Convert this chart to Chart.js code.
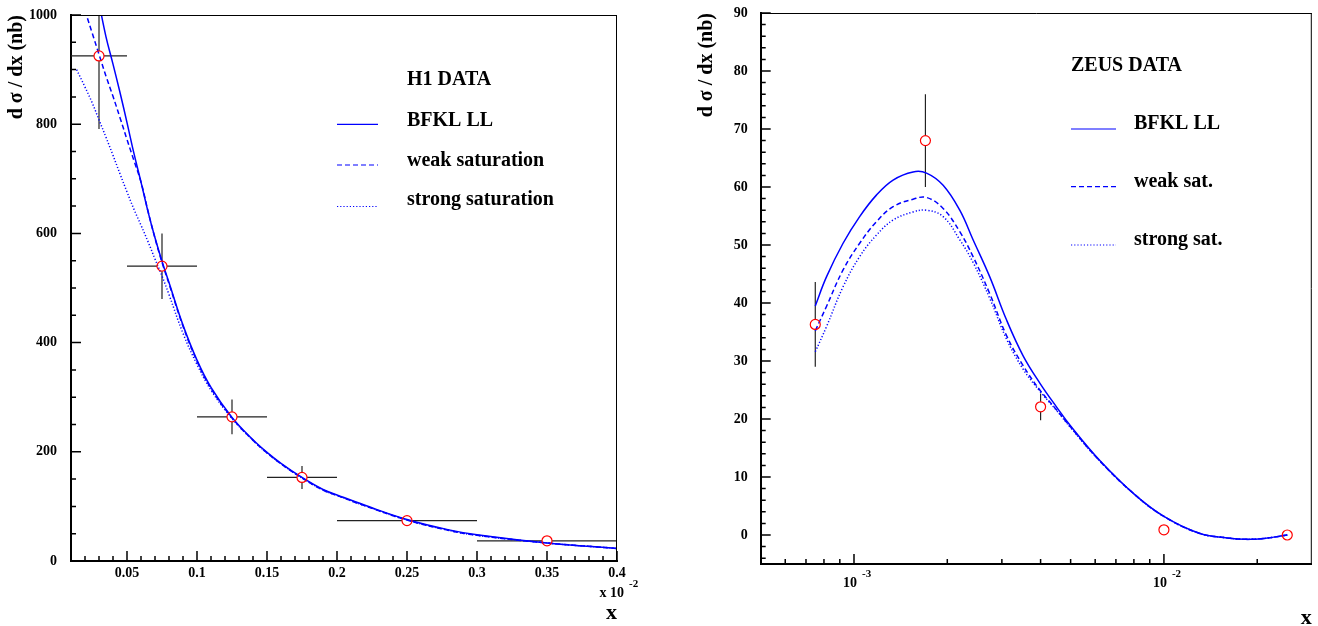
<!DOCTYPE html>
<html lang="en">
<head>
<meta charset="UTF-8">
<title>d sigma / dx : H1 and ZEUS</title>
<script src="https://cdn.jsdelivr.net/npm/chart.js@4"></script>
<style>
  html, body { margin: 0; padding: 0; background: #fff; }
  #wrap { position: relative; width: 1318px; height: 626px; }
  .box { position: absolute; top: 0; height: 626px; }
  #left { left: 0; width: 655px; }
  #right { left: 655px; width: 663px; }
</style>
</head>
<body>
<div id="wrap">
  <div class="box" id="left"><canvas id="h1"></canvas></div>
  <div class="box" id="right"><canvas id="zeus"></canvas></div>
</div>
<script>
// ---------- H1 panel (x in units of 10^-2) ----------
const h1X = [0.03, 0.075, 0.125, 0.175, 0.25, 0.35];
const h1Y = [925, 540, 264, 153, 74, 37];
const h1YErr = [134, 60, 32, 21, 5, 3];
const h1XLo = [0.01, 0.05, 0.10, 0.15, 0.20, 0.30];
const h1XHi = [0.05, 0.10, 0.15, 0.20, 0.30, 0.40];

const h1BfklX = [0.030, 0.035, 0.040, 0.045, 0.050, 0.055, 0.060, 0.065, 0.070, 0.075, 0.080, 0.090, 0.100, 0.110, 0.125, 0.140, 0.150, 0.160, 0.175, 0.190, 0.200, 0.220, 0.250, 0.280, 0.300, 0.350, 0.400];
const h1BfklY = [1022, 960, 910, 858, 803, 746, 694, 640, 592, 549, 510, 432, 368, 318, 263, 222, 199, 179, 153, 131, 121, 102, 76, 57, 48, 33, 23];

const h1WeakX = [0.020, 0.025, 0.030, 0.035, 0.040, 0.045, 0.050, 0.055, 0.060, 0.065, 0.070, 0.075, 0.080, 0.090, 0.100, 0.110, 0.125, 0.140, 0.150, 0.160, 0.175, 0.190, 0.200, 0.220, 0.250, 0.280, 0.300, 0.350, 0.400];
const h1WeakY = [1008, 968, 928, 888, 851, 812, 772, 733, 694, 641, 591, 547, 508, 430, 366, 316, 262, 221, 198, 178, 152, 130, 120, 101, 75, 56, 47, 33, 23];

const h1StrongX = [0.014, 0.020, 0.025, 0.030, 0.035, 0.040, 0.045, 0.050, 0.055, 0.060, 0.065, 0.070, 0.075, 0.080, 0.090, 0.100, 0.110, 0.125, 0.140, 0.150, 0.160, 0.175, 0.190, 0.200, 0.220, 0.250, 0.280, 0.300, 0.350, 0.400];
const h1StrongY = [900, 868, 840, 808, 776, 743, 709, 676, 644, 615, 585, 553, 522, 488, 417, 360, 313, 261, 221, 198, 178, 152, 130, 120, 101, 75, 56, 47, 33, 23];

const h1XTicks = [0.05, 0.1, 0.15, 0.2, 0.25, 0.3, 0.35, 0.4];
const h1XTickLabels = ['0.05', '0.1', '0.15', '0.2', '0.25', '0.3', '0.35', '0.4'];
const h1YTicks = [0, 200, 400, 600, 800, 1000];
const h1YTickLabels = ['0', '200', '400', '600', '800', '1000'];

// ---------- ZEUS panel ----------
const zX = [7.5e-4, 1.7e-3, 4.0e-3, 1.0e-2, 2.5e-2];
const zY = [36.3, 68.0, 22.1, 0.9, 0.0];
const zYErr = [7.3, 8.0, 2.3, 0, 0];

const zCurveX = [7.5e-4, 8.15e-4, 9.22e-4, 1.043e-3, 1.181e-3, 1.337e-3, 1.551e-3, 1.714e-3, 1.939e-3, 2.194e-3, 2.422e-3, 2.742e-3, 3.105e-3, 3.513e-3, 3.977e-3, 4.5e-3, 5.0e-3, 6.2e-3, 8.0e-3, 1.0e-2, 1.3e-2, 1.6e-2, 1.83e-2, 2.1e-2, 2.5e-2];
const zBfklY = [39.5, 44.5, 50.3, 54.9, 58.6, 61.2, 62.6, 62.4, 60.3, 56.0, 50.9, 44.5, 37.1, 30.9, 26.2, 22.1, 18.8, 12.9, 7.1, 3.2, 0.3, -0.5, -0.75, -0.6, 0.0];
const zWeakY = [35.2, 39.4, 45.7, 50.3, 54.0, 56.6, 57.9, 58.2, 56.3, 52.3, 48.0, 41.6, 34.4, 29.2, 25.0, 21.6, 18.6, 12.8, 7.1, 3.2, 0.3, -0.5, -0.75, -0.6, 0.0];
const zStrongY = [31.6, 35.9, 42.8, 48.0, 51.7, 54.3, 55.7, 56.0, 54.9, 50.9, 47.0, 40.8, 33.8, 28.6, 24.8, 21.5, 18.5, 12.8, 7.1, 3.2, 0.3, -0.5, -0.75, -0.6, 0.0];

const zXTicks = [1e-3, 1e-2];
const zXTickExp = ['-3', '-2'];
const zYTicks = [0, 10, 20, 30, 40, 50, 60, 70, 80, 90];
const zYTickLabels = ['0', '10', '20', '30', '40', '50', '60', '70', '80', '90'];

const FONT = '"Liberation Serif", "Times New Roman", serif';
const BLUE = '#0000ff';
const SOLID = [], DASHED = [5, 3], DOTTED = [1.2, 2];

function xy(xs, ys) {
  return xs.map((x, i) => ({ x: x, y: ys[i] }));
}

function curve(label, xs, ys, dash) {
  return {
    label: label,
    data: xy(xs, ys),
    showLine: true,
    borderColor: BLUE,
    borderWidth: 1.5,
    borderDash: dash,
    pointRadius: 0,
    tension: 0.4,
    fill: false
  };
}

function points(xs, ys) {
  return {
    label: 'data',
    data: xy(xs, ys),
    showLine: false,
    pointStyle: 'circle',
    pointRadius: 5,
    pointBorderWidth: 1.2,
    pointBorderColor: '#ff0000',
    pointBackgroundColor: 'rgba(0,0,0,0)'
  };
}

function range(from, to, step) {
  const out = [];
  for (let v = from; v <= to + step / 1000; v += step) out.push(+v.toFixed(6));
  return out;
}

function line(ctx, x1, y1, x2, y2) {
  ctx.moveTo(x1, y1);
  ctx.lineTo(x2, y2);
}

// y axis: keep the wide label gap but do not let it push the plot area down
function fitY(width) {
  return s => {
    s.width = width;
    s.paddingTop = 8;
    s.paddingBottom = 8;
  };
}

// draws frame, inward ticks, error bars, legend and extra labels
const panelPlugin = {
  id: 'panel',
  beforeDatasetsDraw(chart, args, o) {
    const { ctx, chartArea: a } = chart;
    const sx = chart.scales.x, sy = chart.scales.y;
    const r = 5;

    ctx.save();
    ctx.beginPath();
    ctx.rect(a.left, a.top, a.right - a.left, a.bottom - a.top);
    ctx.clip();
    ctx.strokeStyle = '#222';
    ctx.lineWidth = 1.2;
    ctx.beginPath();
    o.bars.x.forEach((xv, i) => {
      const px = sx.getPixelForValue(xv);
      const py = sy.getPixelForValue(o.bars.y[i]);
      if (o.bars.lo) {
        const l = sx.getPixelForValue(o.bars.lo[i]);
        const h = sx.getPixelForValue(o.bars.hi[i]);
        line(ctx, l, py, px - r, py);
        line(ctx, px + r, py, h, py);
      }
      const e = o.bars.err[i];
      if (e) {
        const t = sy.getPixelForValue(o.bars.y[i] + e);
        const b = sy.getPixelForValue(o.bars.y[i] - e);
        if (t < py - r) line(ctx, px, t, px, py - r);
        if (b > py + r) line(ctx, px, py + r, px, b);
      }
    });
    ctx.stroke();
    ctx.restore();
  },
  afterDraw(chart, args, o) {
    const { ctx, chartArea: a } = chart;
    const sx = chart.scales.x, sy = chart.scales.y;

    ctx.save();
    // frame top + right
    ctx.strokeStyle = '#000';
    ctx.lineWidth = 1;
    ctx.beginPath();
    line(ctx, a.left, a.top + 0.5, a.right, a.top + 0.5);
    line(ctx, a.right - 0.5, a.top, a.right - 0.5, a.bottom);
    ctx.stroke();

    // inward ticks
    ctx.lineWidth = 1.5;
    ctx.beginPath();
    o.yMajor.forEach(v => { const p = sy.getPixelForValue(v); line(ctx, a.left, p, a.left + 10, p); });
    o.yMinor.forEach(v => { const p = sy.getPixelForValue(v); line(ctx, a.left, p, a.left + 5, p); });
    o.xMajor.forEach(v => { const p = sx.getPixelForValue(v); line(ctx, p, a.bottom, p, a.bottom - 10); });
    o.xMinor.forEach(v => { const p = sx.getPixelForValue(v); line(ctx, p, a.bottom, p, a.bottom - 5); });
    ctx.stroke();

    // legend
    ctx.fillStyle = '#000';
    ctx.font = 'bold 20px ' + FONT;
    ctx.textBaseline = 'alphabetic';
    ctx.textAlign = 'left';
    const L = o.legend;
    ctx.fillText(L.title, L.titleX, L.titleY);
    L.items.forEach(it => {
      ctx.fillText(it.text, L.textX, it.ty);
      ctx.save();
      ctx.strokeStyle = BLUE;
      ctx.lineWidth = 1.2;
      ctx.setLineDash(it.dash);
      ctx.beginPath();
      line(ctx, L.lineX1, it.ly, L.lineX2, it.ly);
      ctx.stroke();
      ctx.restore();
    });

    // power-of-ten labels
    ctx.fillStyle = '#000';
    (o.powers || []).forEach(pw => {
      const px = pw.value !== undefined ? sx.getPixelForValue(pw.value) : a.right;
      ctx.font = 'bold 14px ' + FONT;
      ctx.textAlign = 'right';
      ctx.fillText(pw.base, px + pw.dx, a.bottom + pw.dy);
      ctx.font = 'bold 11px ' + FONT;
      ctx.textAlign = 'left';
      ctx.fillText(pw.exp, px + pw.dx + 5, a.bottom + pw.dy - 10);
    });
    ctx.restore();
  }
};

function tickFont() {
  return { family: FONT, size: 14, weight: 'bold' };
}

// ---------- H1 chart ----------
new Chart(document.getElementById('h1'), {
  type: 'scatter',
  data: {
    datasets: [
      points(h1X, h1Y),
      curve('BFKL LL', h1BfklX, h1BfklY, SOLID),
      curve('weak saturation', h1WeakX, h1WeakY, DASHED),
      curve('strong saturation', h1StrongX, h1StrongY, DOTTED)
    ]
  },
  options: {
    responsive: true,
    maintainAspectRatio: false,
    animation: false,
    layout: { padding: { left: 5, top: 15, right: 38, bottom: 2 } },
    plugins: {
      legend: { display: false },
      tooltip: { enabled: false },
      panel: {
        bars: { x: h1X, y: h1Y, err: h1YErr, lo: h1XLo, hi: h1XHi },
        yMajor: h1YTicks, yMinor: range(50, 950, 50),
        xMajor: h1XTicks, xMinor: range(0.02, 0.39, 0.01),
        legend: {
          title: 'H1 DATA', titleX: 407, titleY: 85,
          textX: 407, lineX1: 337, lineX2: 378,
          items: [
            { text: 'BFKL LL', ty: 125.7, ly: 124.3, dash: SOLID },
            { text: 'weak saturation', ty: 165.7, ly: 165, dash: DASHED },
            { text: 'strong saturation', ty: 205, ly: 206.5, dash: DOTTED }
          ]
        },
        powers: [{ base: 'x 10', exp: '-2', dx: 7, dy: 36 }]
      }
    },
    scales: {
      x: {
        type: 'linear', min: 0.01, max: 0.4,
        afterBuildTicks: s => { s.ticks = h1XTicks.map(v => ({ value: v })); },
        afterFit: s => { s.height = 63; },
        grid: { display: false, drawTicks: false },
        border: { display: true, color: '#000', width: 2 },
        ticks: { padding: 4, maxRotation: 0, autoSkip: false, color: '#000', font: tickFont(), callback: (v, i) => h1XTickLabels[i] },
        title: { display: true, text: 'x', align: 'end', color: '#000', padding: 0, font: { family: FONT, size: 22, weight: 'bold', lineHeight: 1 } }
      },
      y: {
        type: 'linear', min: 0, max: 1000,
        afterBuildTicks: s => { s.ticks = h1YTicks.map(v => ({ value: v })); },
        afterFit: fitY(66),
        grid: { display: false, drawTicks: false },
        border: { display: true, color: '#000', width: 2 },
        ticks: { padding: 14, autoSkip: false, color: '#000', font: tickFont(), callback: (v, i) => h1YTickLabels[i] },
        title: { display: true, text: 'd σ / dx (nb)', align: 'end', color: '#000', padding: 0, font: { family: FONT, size: 20, weight: 'bold' } }
      }
    }
  },
  plugins: [panelPlugin]
});

// ---------- ZEUS chart ----------
const zMinorX = [6e-4, 7e-4, 8e-4, 9e-4, 2e-3, 3e-3, 4e-3, 5e-3, 6e-3, 7e-3, 8e-3, 9e-3, 2e-2];

new Chart(document.getElementById('zeus'), {
  type: 'scatter',
  data: {
    datasets: [
      points(zX, zY),
      curve('BFKL LL', zCurveX, zBfklY, SOLID),
      curve('weak sat.', zCurveX, zWeakY, DASHED),
      curve('strong sat.', zCurveX, zStrongY, DOTTED)
    ]
  },
  options: {
    responsive: true,
    maintainAspectRatio: false,
    animation: false,
    layout: { padding: { left: 40, top: 13, right: 6, bottom: 0 } },
    plugins: {
      legend: { display: false },
      tooltip: { enabled: false },
      panel: {
        bars: { x: zX, y: zY, err: zYErr },
        yMajor: zYTicks, yMinor: range(-4, 88, 2),
        xMajor: zXTicks, xMinor: zMinorX,
        legend: {
          title: 'ZEUS DATA', titleX: 416, titleY: 71,
          textX: 479, lineX1: 416, lineX2: 461,
          items: [
            { text: 'BFKL LL', ty: 129.3, ly: 129, dash: SOLID },
            { text: 'weak sat.', ty: 186.7, ly: 186.7, dash: DASHED },
            { text: 'strong sat.', ty: 245, ly: 245, dash: DOTTED }
          ]
        },
        powers: zXTicks.map((v, i) => ({ value: v, base: '10', exp: zXTickExp[i], dx: 3, dy: 23 }))
      }
    },
    scales: {
      x: {
        type: 'logarithmic', min: 5e-4, max: 3e-2,
        afterBuildTicks: s => { s.ticks = zXTicks.map(v => ({ value: v })); },
        afterFit: s => { s.height = 62; },
        grid: { display: false, drawTicks: false },
        border: { display: true, color: '#000', width: 2 },
        ticks: { display: false },
        title: { display: true, text: 'x', align: 'end', color: '#000', padding: 0, font: { family: FONT, size: 22, weight: 'bold', lineHeight: 0.73 } }
      },
      y: {
        type: 'linear', min: -5, max: 90,
        afterBuildTicks: s => { s.ticks = zYTicks.map(v => ({ value: v })); },
        afterFit: fitY(65.7),
        grid: { display: false, drawTicks: false },
        border: { display: true, color: '#000', width: 2 },
        ticks: { padding: 13, autoSkip: false, color: '#000', font: tickFont(), callback: (v, i) => zYTickLabels[i] },
        title: { display: true, text: 'd σ / dx (nb)', align: 'end', color: '#000', padding: 0, font: { family: FONT, size: 20, weight: 'bold' } }
      }
    }
  },
  plugins: [panelPlugin]
});
</script>
</body>
</html>
